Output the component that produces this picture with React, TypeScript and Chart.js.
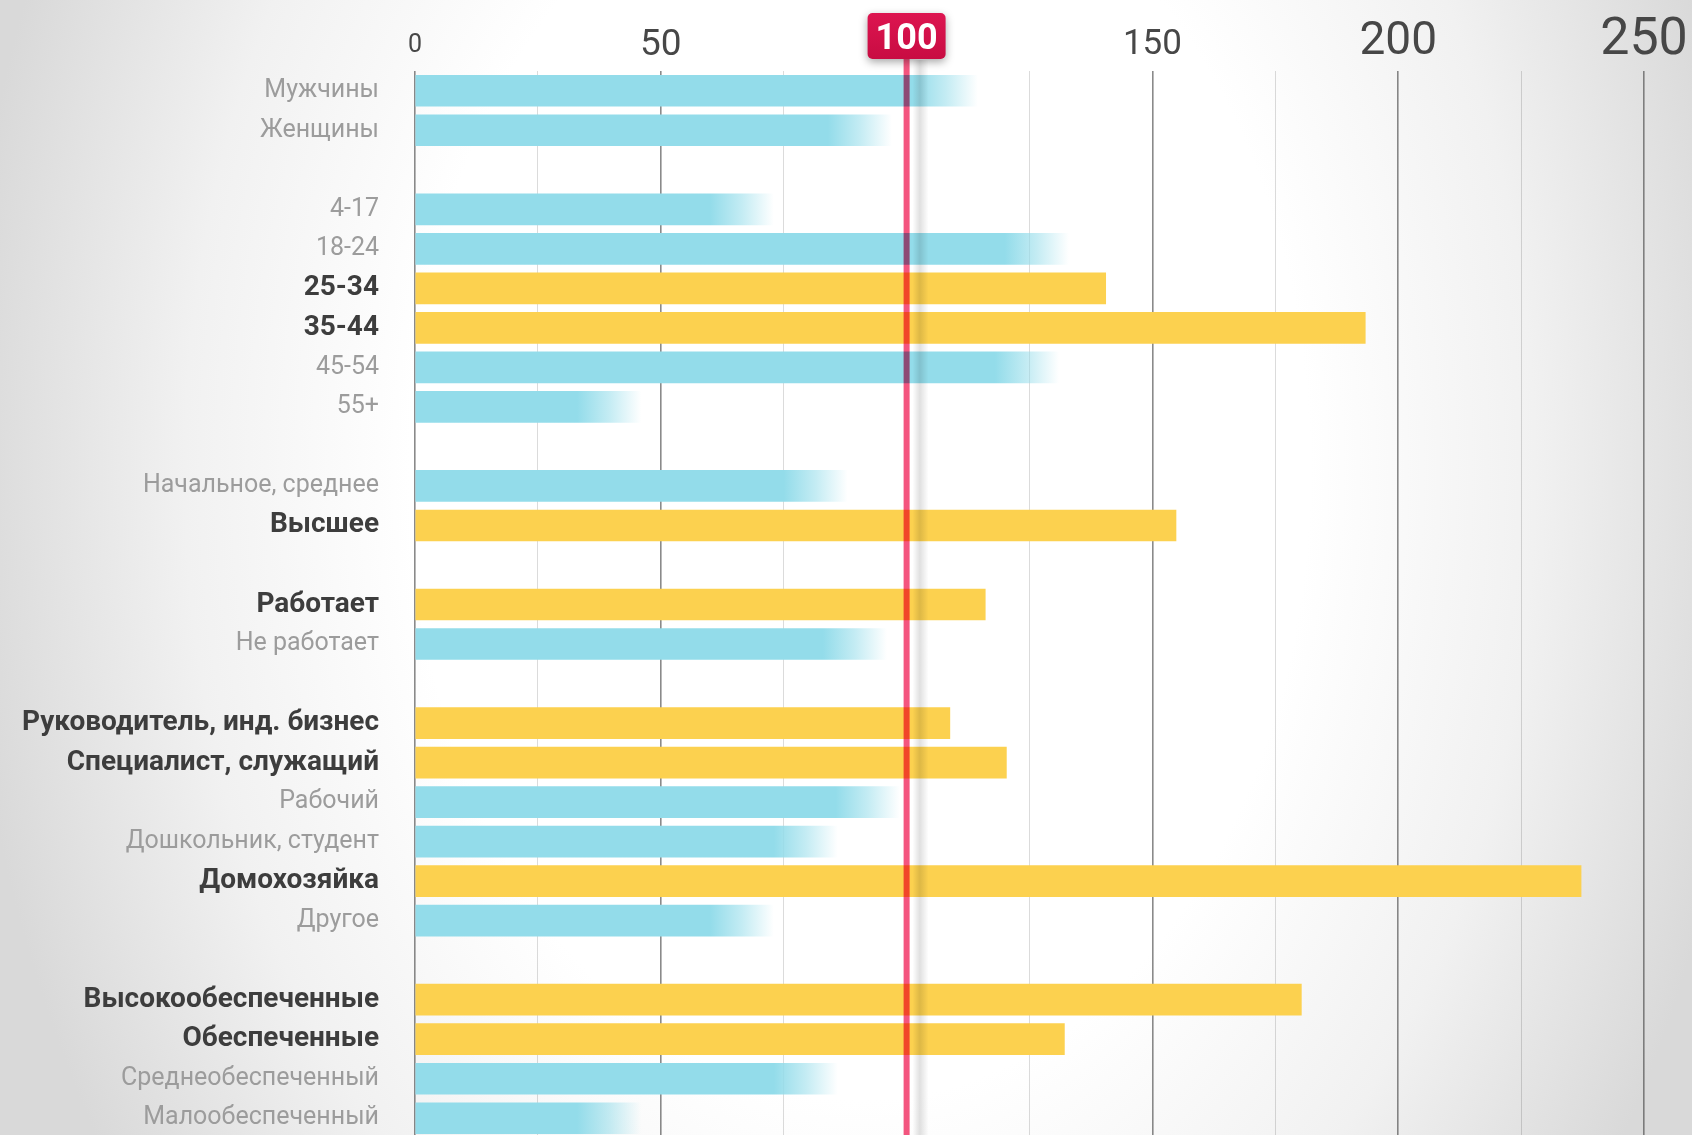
import React, { useEffect, useRef } from 'react';
import { Chart, registerables } from 'chart.js';

Chart.register(...registerables);

// ---------- data ----------
const categories: string[] = [
  'Мужчины', 'Женщины', '',
  '4-17', '18-24', '25-34', '35-44', '45-54', '55+', '',
  'Начальное, среднее', 'Высшее', '',
  'Работает', 'Не работает', '',
  'Руководитель, инд. бизнес', 'Специалист, служащий', 'Рабочий', 'Дошкольник, студент', 'Домохозяйка', 'Другое', '',
  'Высокообеспеченные', 'Обеспеченные', 'Среднеобеспеченный', 'Малообеспеченный',
];

const values: (number | null)[] = [
  114.5, 97, null,
  73, 133, 140.5, 193.3, 131, 46, null,
  88, 154.8, null,
  116, 96, null,
  108.8, 120.3, 98.6, 86, 237.2, 73, null,
  180.3, 132.1, 86, 46,
];

const highlighted: boolean[] = [
  false, false, false,
  false, false, true, true, false, false, false,
  false, true, false,
  true, false, false,
  true, true, false, false, true, false, false,
  true, true, false, false,
];

const xMin = 0;
const xMax = 250;
const xStep = 25;
const labelledTicks = [0, 50, 150, 200, 250];
const referenceValue = 100;

// ---------- styles ----------
const BLUE = 'rgba(147,220,234,1)';
const BLUE_T = 'rgba(147,220,234,0)';
const YELLOW = '#FCD14F';
const FADE_PX = 64;
const X_AXIS_H = 71;

const tickFont: Record<number, { size: number; base: number }> = {
  0: { size: 25, base: 53 },
  50: { size: 37, base: 56 },
  150: { size: 35, base: 55.5 },
  200: { size: 46, base: 56 },
  250: { size: 52, base: 56 },
};

const decorPlugin = {
  id: 'decor',
  beforeDraw(chart: any) {
    const { ctx, width, height } = chart;
    ctx.save();
    ctx.fillStyle = '#d8d8d8';
    ctx.fillRect(0, 0, width, height);
    ctx.translate(860, 470);
    ctx.scale(1, 1.4);
    const g = ctx.createRadialGradient(0, 0, 0, 0, 0, 900);
    g.addColorStop(0, '#ffffff');
    g.addColorStop(0.5, '#ffffff');
    g.addColorStop(0.75, '#f1f1f1');
    g.addColorStop(1, '#d9d9d9');
    ctx.fillStyle = g;
    ctx.fillRect(-1200, -1200, 3200, 3200);
    ctx.restore();
  },
  afterDraw(chart: any) {
    const { ctx, scales } = chart;
    const x = scales.x.getPixelForValue(referenceValue);
    if (!isFinite(x)) return;
    ctx.save();
    // soft shadow right of the line
    const sg = ctx.createLinearGradient(x + 6, 0, x + 22, 0);
    sg.addColorStop(0, 'rgba(0,0,0,0)');
    sg.addColorStop(0.45, 'rgba(0,0,0,0.12)');
    sg.addColorStop(1, 'rgba(0,0,0,0)');
    ctx.fillStyle = sg;
    ctx.fillRect(x + 6, 60, 16, chart.height);
    // red line
    ctx.globalCompositeOperation = 'multiply';
    ctx.fillStyle = '#F4557F';
    ctx.fillRect(x - 3, 50, 6, chart.height);
    ctx.globalCompositeOperation = 'source-over';
    // label box
    ctx.shadowColor = 'rgba(0,0,0,0.35)';
    ctx.shadowBlur = 8;
    ctx.shadowOffsetY = 3;
    const bg = ctx.createLinearGradient(0, 13, 0, 59);
    bg.addColorStop(0, '#DD1550');
    bg.addColorStop(1, '#C80C42');
    ctx.fillStyle = bg;
    ctx.beginPath();
    ctx.roundRect(x - 39, 13, 78, 46, 5);
    ctx.fill();
    ctx.shadowColor = 'transparent';
    ctx.fillStyle = '#ffffff';
    ctx.font = 'bold 36px Roboto';
    ctx.textAlign = 'center';
    ctx.textBaseline = 'alphabetic';
    ctx.fillText(String(referenceValue), x, 49);
    ctx.restore();
  },
};

export default function App() {
  const ref = useRef<HTMLCanvasElement | null>(null);

  useEffect(() => {
    if (!ref.current) return;
    const chart = new Chart(ref.current, {
      type: 'bar',
      data: {
        labels: categories,
        datasets: [
          {
            data: values,
            barThickness: 31,
            borderWidth: 0,
            backgroundColor: (c: any) => {
              const i = c.dataIndex;
              const v = c.raw;
              if (v == null) return 'rgba(0,0,0,0)';
              if (highlighted[i]) return YELLOW;
              const xs = c.chart.scales?.x;
              if (!xs) return BLUE;
              const end = xs.getPixelForValue(v);
              if (!isFinite(end)) return BLUE;
              const g = c.chart.ctx.createLinearGradient(end - FADE_PX, 0, end, 0);
              g.addColorStop(0, BLUE);
              g.addColorStop(0.5, 'rgba(147,220,234,0.55)');
              g.addColorStop(1, BLUE_T);
              return g;
            },
          },
        ],
      },
      options: {
        indexAxis: 'y',
        animation: false,
        responsive: false,
        layout: { padding: { left: 0, right: 48, top: 0, bottom: 0 } },
        plugins: { legend: { display: false }, tooltip: { enabled: false } },
        scales: {
          x: {
            type: 'linear',
            position: 'top',
            min: xMin,
            max: xMax,
            z: 1,
            border: { display: false },
            grid: {
              drawTicks: false,
              color: (c: any) => {
                const v = c.tick?.value;
                if (v === referenceValue) return 'rgba(0,0,0,0)';
                if (v % 50 === 0) return 'rgba(60,60,60,0.6)';
                return 'rgba(0,0,0,0.14)';
              },
              lineWidth: (c: any) => {
                const v = c.tick?.value;
                return v % 50 === 0 ? 1.6 : 1;
              },
            },
            ticks: {
              stepSize: xStep,
              autoSkip: false,
              maxRotation: 0,
              padding: 0,
              color: '#474747',
              callback: (v: any) => (labelledTicks.includes(Number(v)) ? String(v) : ''),
              font: (c: any) => {
                const v = c.tick?.value;
                const f = tickFont[v] || { size: 30, base: 56 };
                const L = 2 * (X_AXIS_H - f.base) + 0.58 * f.size;
                return { family: 'Roboto', size: f.size, weight: 'normal', lineHeight: `${L}px` };
              },
            },
            afterFit: (s: any) => {
              s.height = X_AXIS_H;
              s.paddingLeft = 0;
              s.paddingRight = 0;
            },
          },
          y: {
            type: 'category',
            border: { display: false },
            grid: { display: false, drawTicks: false },
            ticks: {
              autoSkip: false,
              padding: 36,
              color: (c: any) => (highlighted[c.index] ? '#3d3d3d' : '#9c9c9c'),
              font: (c: any) =>
                highlighted[c.index]
                  ? { family: 'Roboto', size: 28, weight: 'bold' }
                  : { family: 'Roboto', size: 25, weight: 'normal' },
            },
            afterFit: (s: any) => {
              s.width = 415;
              s.paddingTop = 0;
              s.paddingBottom = 0;
            },
          },
        },
      },
      plugins: [decorPlugin],
    } as any);
    return () => chart.destroy();
  }, []);

  return (
    <div
      style={{
        position: 'fixed',
        left: 0,
        top: 0,
        width: 1692,
        height: 1135,
        overflow: 'hidden',
        background: '#ffffff',
      }}
    >
      <canvas ref={ref} width={1692} height={1138} style={{ display: 'block' }} />
    </div>
  );
}
